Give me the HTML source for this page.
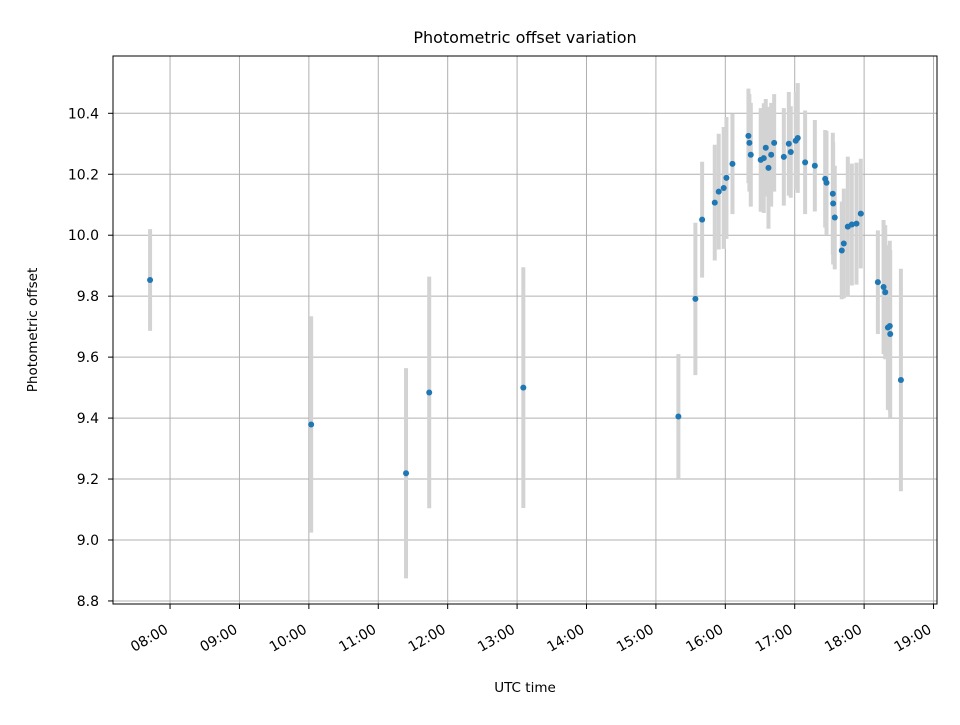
<!DOCTYPE html>
<html><head><meta charset="utf-8"><style>
body{margin:0;background:#fff;font-family:"Liberation Sans","DejaVu Sans",sans-serif}
svg text{font-family:"DejaVu Sans","Liberation Sans",sans-serif}
</style></head><body>
<svg id="chart" width="960" height="720" viewBox="0 0 960 720" xmlns="http://www.w3.org/2000/svg">
<rect width="960" height="720" fill="#fff"/>
<text x="525" y="43" font-size="16" text-anchor="middle">Photometric offset variation</text>
<text x="525" y="692" font-size="13.5" text-anchor="middle">UTC time</text>
<text transform="translate(37,330) rotate(-90)" font-size="13.5" text-anchor="middle">Photometric offset</text>
<g id="grid"></g>
<g id="errs"></g>
<g id="pts"></g>
<g id="axes"></g>
</svg>
<script>
const times=[7.712,10.033,11.40,11.734,13.09,15.324,15.569,15.666,15.848,15.905,15.977,16.016,16.103,16.333,16.347,16.367,16.51,16.554,16.583,16.622,16.661,16.704,16.843,16.915,16.943,17.015,17.044,17.15,17.29,17.439,17.458,17.549,17.554,17.577,17.678,17.707,17.765,17.823,17.89,17.952,18.198,18.28,18.304,18.342,18.37,18.376,18.53];
const values=[9.853,9.379,9.219,9.484,9.50,9.405,9.791,10.051,10.107,10.143,10.155,10.188,10.234,10.326,10.303,10.264,10.247,10.253,10.287,10.221,10.264,10.303,10.257,10.30,10.273,10.31,10.319,10.239,10.228,10.185,10.172,10.136,10.104,10.058,9.95,9.973,10.028,10.035,10.038,10.071,9.846,9.83,9.813,9.697,9.702,9.676,9.525];
const errors=[0.167,0.355,0.345,0.38,0.395,0.205,0.25,0.19,0.19,0.19,0.2,0.2,0.165,0.155,0.16,0.17,0.17,0.18,0.16,0.2,0.17,0.16,0.16,0.17,0.15,0.16,0.18,0.17,0.15,0.16,0.17,0.2,0.2,0.17,0.16,0.18,0.23,0.2,0.2,0.18,0.17,0.22,0.22,0.27,0.28,0.275,0.365];
const yTicks=[8.8,9.0,9.2,9.4,9.6,9.8,10.0,10.2,10.4];
const xTickHours=[8,9,10,11,12,13,14,15,16,17,18,19];
const xTickLabels=["08:00","09:00","10:00","11:00","12:00","13:00","14:00","15:00","16:00","17:00","18:00","19:00"];
const L=113,R=937,T=56,B=604;
const xMin=7.178,xMax=19.05,yMin=8.79,yMax=10.588;
const sx=h=>L+(h-xMin)/(xMax-xMin)*(R-L);
const sy=v=>B-(v-yMin)/(yMax-yMin)*(B-T);
const NS="http://www.w3.org/2000/svg";
function mk(tag,attrs,parent){const e=document.createElementNS(NS,tag);for(const k in attrs)e.setAttribute(k,attrs[k]);parent.appendChild(e);return e;}
const grid=document.getElementById('grid'),axes=document.getElementById('axes');
yTicks.forEach(v=>{const y=sy(v);
 const g=mk('line',{x1:L,x2:R,y1:y,y2:y,stroke:'#b0b0b0','stroke-width':1},grid);
 
 
 mk('line',{x1:L-5,x2:L,y1:y,y2:y,stroke:'#000'},axes);
 const t=mk('text',{x:L-14,y:y+5,'font-size':14,'text-anchor':'end'},axes);t.textContent=v.toFixed(1);
 
 
});
xTickHours.forEach((h,i)=>{const x=sx(h);
 const g=mk('line',{x1:x,x2:x,y1:T,y2:B,stroke:'#b0b0b0','stroke-width':1},grid);
 
 
 mk('line',{x1:x,x2:x,y1:B,y2:B+5,stroke:'#000'},axes);
 const t=mk('text',{transform:`translate(${x-1},${B+28}) rotate(-30)`,'font-size':14,'text-anchor':'end'},axes);t.textContent=xTickLabels[i];
 
 
});
const fr=mk('rect',{x:L,y:T,width:R-L,height:B-T,fill:'none',stroke:'#000','stroke-width':1},axes);


const errs=document.getElementById('errs'),pts=document.getElementById('pts');
times.forEach((h,i)=>{const x=sx(h);
 const e=mk('line',{x1:x,x2:x,y1:sy(values[i]+errors[i]),y2:sy(values[i]-errors[i]),stroke:'#d3d3d3','stroke-width':4},errs);
 
 
 const c=mk('circle',{cx:x,cy:sy(values[i]),r:3,fill:'#1f77b4'},pts);
 
 
});
</script>
</body></html>
